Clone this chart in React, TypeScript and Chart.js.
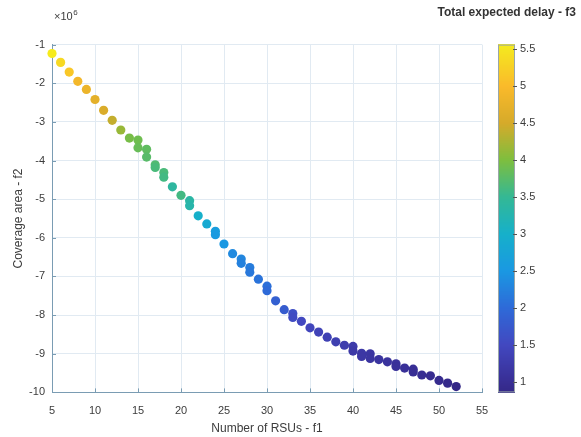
import React, { useEffect, useRef } from "react";
import { Chart, registerables } from "chart.js";

Chart.register(...registerables);

// f1: number of RSUs
const rsus = [
  5, 6, 7, 8, 9, 10, 11, 12, 13, 14, 15, 15, 16, 16, 17, 17, 18, 18, 19, 20,
  21, 21, 22, 23, 24, 24, 25, 26, 27, 27, 28, 28, 29, 30, 30, 31, 32, 33, 33, 34,
  35, 36, 37, 38, 39, 40, 40, 41, 41, 42, 42, 43, 44, 45, 45, 46, 47, 47, 48, 49,
  50, 51, 52,
];
// f2: coverage area (x 10^6)
const coverage = [
  -1.23, -1.46, -1.71, -1.95, -2.16, -2.42, -2.7, -2.96, -3.21, -3.42, -3.47, -3.67,
  -3.71, -3.91, -4.11, -4.18, -4.31, -4.43, -4.68, -4.9, -5.04, -5.17, -5.43, -5.64,
  -5.83, -5.92, -6.16, -6.41, -6.55, -6.66, -6.77, -6.89, -7.07, -7.25, -7.37, -7.63,
  -7.86, -7.96, -8.06, -8.16, -8.33, -8.44, -8.57, -8.69, -8.78, -8.81, -8.93, -8.99,
  -9.07, -9.0, -9.12, -9.15, -9.21, -9.26, -9.33, -9.37, -9.4, -9.47, -9.55, -9.57,
  -9.69, -9.76, -9.85,
];
// f3: total expected delay
const delay = [
  5.55, 5.35, 5.15, 4.9, 4.8, 4.7, 4.55, 4.4, 4.15, 3.95, 3.9, 3.85, 3.8, 3.75, 3.7,
  3.65, 3.65, 3.6, 3.4, 3.6, 3.35, 3.3, 3.0, 2.85, 2.6, 2.55, 2.5, 2.35, 2.3, 2.25,
  2.2, 2.15, 2.1, 2.05, 2.0, 1.85, 1.8, 1.6, 1.55, 1.5, 1.45, 1.4, 1.36, 1.32, 1.28,
  1.25, 1.22, 1.2, 1.18, 1.16, 1.14, 1.12, 1.1, 1.08, 1.06, 1.04, 1.02, 1.0, 0.98,
  0.96, 0.93, 0.9, 0.86,
];

const xTicks = [5, 10, 15, 20, 25, 30, 35, 40, 45, 50, 55];
const yTicks = [-1, -2, -3, -4, -5, -6, -7, -8, -9, -10];
const cbTicks = [1, 1.5, 2, 2.5, 3, 3.5, 4, 4.5, 5, 5.5];
const cbMin = 0.857;
const cbMax = 5.56;

const titleText = "Total expected delay - f3";
const xTitle = "Number of RSUs - f1";
const yTitle = "Coverage area - f2";

// parula-like colormap as it appears in the figure (value -> rgb)
const cmapValues = [0.857, 1, 1.5, 2, 2.5, 3, 3.5, 4, 4.5, 5, 5.5, 5.56];
const cmapColors: number[][] = [
  [52, 40, 135],
  [56, 46, 148],
  [66, 72, 192],
  [46, 106, 216],
  [26, 152, 226],
  [22, 176, 202],
  [52, 184, 148],
  [126, 190, 62],
  [214, 170, 42],
  [250, 186, 42],
  [245, 230, 32],
  [246, 236, 26],
];

function colorFor(v: number): string {
  const x = Math.max(cmapValues[0], Math.min(cmapValues[cmapValues.length - 1], v));
  let k = 0;
  while (k < cmapValues.length - 2 && x > cmapValues[k + 1]) k++;
  const f = (x - cmapValues[k]) / (cmapValues[k + 1] - cmapValues[k]);
  const a = cmapColors[k];
  const b = cmapColors[k + 1];
  const c = a.map((q, i) => Math.round(q + (b[i] - q) * f));
  return `rgb(${c[0]},${c[1]},${c[2]})`;
}

const FONT = '"Liberation Sans", Arial, Helvetica, sans-serif';
const axisColor = "#7a9cb3";
const gridColor = "#e1eaf2";
const textColor = "#3c3c3c";

const decor = {
  id: "decor",
  afterDraw(chart: any) {
    const ctx = chart.ctx as CanvasRenderingContext2D;
    const area = chart.chartArea;
    const xs = chart.scales.x;
    const ys = chart.scales.y;
    const cb = chart.scales.cb;
    ctx.save();
    // inward tick marks
    ctx.strokeStyle = axisColor;
    ctx.lineWidth = 1;
    ctx.beginPath();
    xTicks.forEach((v) => {
      const px = Math.round(xs.getPixelForValue(v)) + 0.5;
      ctx.moveTo(px, area.bottom);
      ctx.lineTo(px, area.bottom - 4);
    });
    yTicks.forEach((v) => {
      const py = Math.round(ys.getPixelForValue(v)) + 0.5;
      ctx.moveTo(area.left, py);
      ctx.lineTo(area.left + 4, py);
    });
    ctx.stroke();

    // colorbar
    const cbL = 498;
    const cbR = 515;
    for (let py = Math.floor(cb.top); py < cb.bottom; py++) {
      const val = cb.getValueForPixel(py + 0.5);
      ctx.fillStyle = colorFor(val);
      ctx.fillRect(cbL, py, cbR - cbL, 1);
    }
    ctx.strokeStyle = "#9aa6a8";
    ctx.strokeRect(cbL + 0.5, cb.top + 0.5, cbR - cbL - 1, cb.bottom - cb.top - 1);
    ctx.strokeStyle = "#555";
    ctx.beginPath();
    cbTicks.forEach((v) => {
      const py = Math.round(cb.getPixelForValue(v)) + 0.5;
      ctx.moveTo(cbR - 2, py);
      ctx.lineTo(cbR + 2, py);
    });
    ctx.stroke();

    // exponent label
    ctx.fillStyle = textColor;
    ctx.textBaseline = "middle";
    ctx.textAlign = "left";
    ctx.font = `11px ${FONT}`;
    const base = "\u00d710";
    ctx.fillText(base, 54, 17);
    const w = ctx.measureText(base).width;
    ctx.font = `8px ${FONT}`;
    ctx.fillText("6", 54 + w + 0.5, 13);

    // colorbar title
    ctx.font = `bold 12px ${FONT}`;
    ctx.fillStyle = "#333";
    ctx.textAlign = "right";
    ctx.fillText(titleText, 576, 13);
    ctx.restore();
  },
};

export default function App() {
  const ref = useRef<HTMLCanvasElement>(null);
  useEffect(() => {
    if (!ref.current) return;
    Chart.defaults.font.family = FONT;
    const chart = new Chart(ref.current, {
      type: "scatter",
      data: {
        datasets: [
          {
            data: rsus.map((x, i) => ({ x, y: coverage[i] })),
            backgroundColor: delay.map((v) => colorFor(v)),
            pointRadius: 4.6,
            pointHoverRadius: 4.6,
            borderWidth: 0,
            clip: false,
            yAxisID: "y",
          },
        ],
      },
      options: {
        animation: false,
        responsive: false,
        events: [],
        layout: { padding: { top: 24, bottom: 0, left: 0, right: 0 } },
        plugins: { legend: { display: false }, tooltip: { enabled: false } },
        scales: {
          x: {
            type: "linear",
            min: 5,
            max: 55,
            afterBuildTicks: (s: any) => {
              s.ticks = xTicks.map((v) => ({ value: v }));
            },
            afterFit: (s: any) => {
              s.height = 40;
            },
            grid: { color: gridColor, drawTicks: false },
            border: { color: axisColor },
            ticks: { padding: 12, color: textColor, font: { size: 11 } },
            title: {
              display: true,
              text: xTitle,
              color: textColor,
              font: { size: 12 },
              padding: { top: 0, bottom: -3 },
            },
          },
          y: {
            type: "linear",
            min: -10,
            max: -1,
            afterBuildTicks: (s: any) => {
              s.ticks = yTicks.map((v) => ({ value: v }));
            },
            afterFit: (s: any) => {
              s.width = 52;
            },
            grid: { color: gridColor, drawTicks: false },
            border: { color: axisColor },
            ticks: { padding: 7, color: textColor, font: { size: 11 } },
            title: {
              display: true,
              text: yTitle,
              color: textColor,
              font: { size: 12 },
              padding: { top: 11, bottom: 0 },
            },
          },
          cb: {
            type: "linear",
            position: "right",
            min: cbMin,
            max: cbMax,
            afterBuildTicks: (s: any) => {
              s.ticks = cbTicks.map((v) => ({ value: v }));
            },
            afterFit: (s: any) => {
              s.width = 99;
            },
            grid: { display: false, drawTicks: false },
            border: { display: false },
            ticks: {
              padding: 38,
              color: textColor,
              font: { size: 11 },
              callback: (v: any) => String(v),
            },
          },
        },
      },
      plugins: [decor],
    } as any);
    return () => chart.destroy();
  }, []);
  return (
    <div style={{ position: "fixed", left: 0, top: 0, width: 581, height: 437, background: "#fff" }}>
      <canvas ref={ref} width={581} height={437} style={{ width: 581, height: 437, display: "block" }} />
    </div>
  );
}
